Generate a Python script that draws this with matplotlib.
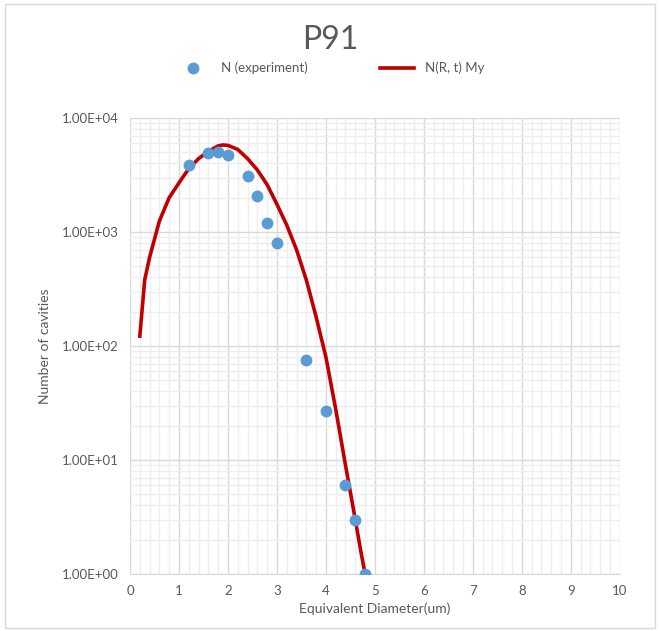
import numpy as np
import matplotlib.pyplot as plt
from matplotlib.ticker import FixedLocator, FuncFormatter, MultipleLocator
from matplotlib.patches import Rectangle

plt.rcParams['font.family'] = ['Lato', 'DejaVu Sans']

# experiment points
exp_d = [1.2, 1.6, 1.8, 2.0, 2.4, 2.6, 2.8, 3.0, 3.6, 4.0, 4.4, 4.6, 4.8]
exp_n = [3850, 4900, 5000, 4750, 3100, 2070, 1200, 800, 75, 27, 6, 3, 1]

# model curve N(R, t)
mod_d = [0.2, 0.3, 0.4, 0.6, 0.8, 1.0, 1.2, 1.4, 1.6, 1.8, 1.9, 2.0, 2.2, 2.4,
         2.6, 2.8, 3.0, 3.2, 3.4, 3.6, 3.8, 4.0, 4.2, 4.4, 4.6, 4.7, 4.8]
mod_n = [122, 380, 600, 1250, 2000, 2700, 3600, 4400, 5100, 5700, 5800, 5750,
         5300, 4400, 3500, 2600, 1750, 1150, 700, 380, 180, 80, 28, 9, 3, 1.7, 1.0]

grey = '#595959'

fig = plt.figure(figsize=(6.6, 6.31), dpi=100)
ax = fig.add_axes([0.197, 0.0903, 0.742, 0.7227])

ax.plot(exp_d, exp_n, 'o', color='#5b9bd5', markersize=7.5, zorder=3,
        label='N (experiment)')
ax.plot(mod_d, mod_n, '-', color='#c00000', linewidth=2.6, zorder=2,
        label='N(R, t) My')

ax.set_yscale('log')
ax.set_xlim(0, 10)
ax.set_ylim(1, 1e4)
ax.xaxis.set_major_locator(MultipleLocator(1))
ax.xaxis.set_minor_locator(MultipleLocator(0.2))
ax.yaxis.set_major_locator(FixedLocator([1, 10, 100, 1000, 10000]))
minors = [m * 10 ** e for e in range(4) for m in range(2, 10)]
ax.yaxis.set_minor_locator(FixedLocator(minors))
ax.yaxis.set_major_formatter(FuncFormatter(lambda v, p: '%.2E' % v))
ax.yaxis.set_minor_formatter(FuncFormatter(lambda v, p: ''))

ax.grid(which='major', color='#d9d9d9', linewidth=1.0, zorder=0)
ax.grid(which='minor', color='#eeeeee', linewidth=1.0, zorder=0)
ax.set_axisbelow(True)
for s in ['top', 'right', 'left']:
    ax.spines[s].set_visible(False)
ax.spines['bottom'].set_color('#d9d9d9')
ax.tick_params(which='both', length=0, colors=grey, labelsize=9.5, pad=8)

ax.set_xlabel('Equivalent Diameter(um)', color=grey, fontsize=10, labelpad=4)
ax.set_ylabel('Number of cavities', color=grey, fontsize=10, labelpad=8)

fig.text(0.5, 0.937, 'P91', ha='center', va='center', color=grey, fontsize=23)
leg = ax.legend(loc='center', bbox_to_anchor=(0.5, 0.892), bbox_transform=fig.transFigure,
                ncol=2, frameon=False, fontsize=9.5, handlelength=2.6,
                columnspacing=5.5, handletextpad=0.8)
for t in leg.get_texts():
    t.set_color(grey)

fig.patches.append(Rectangle((0.008, 0.004), 0.985, 0.99, transform=fig.transFigure,
                             fill=False, edgecolor='#d9d9d9', linewidth=1.0))

fig.savefig('out.png', dpi=100)
